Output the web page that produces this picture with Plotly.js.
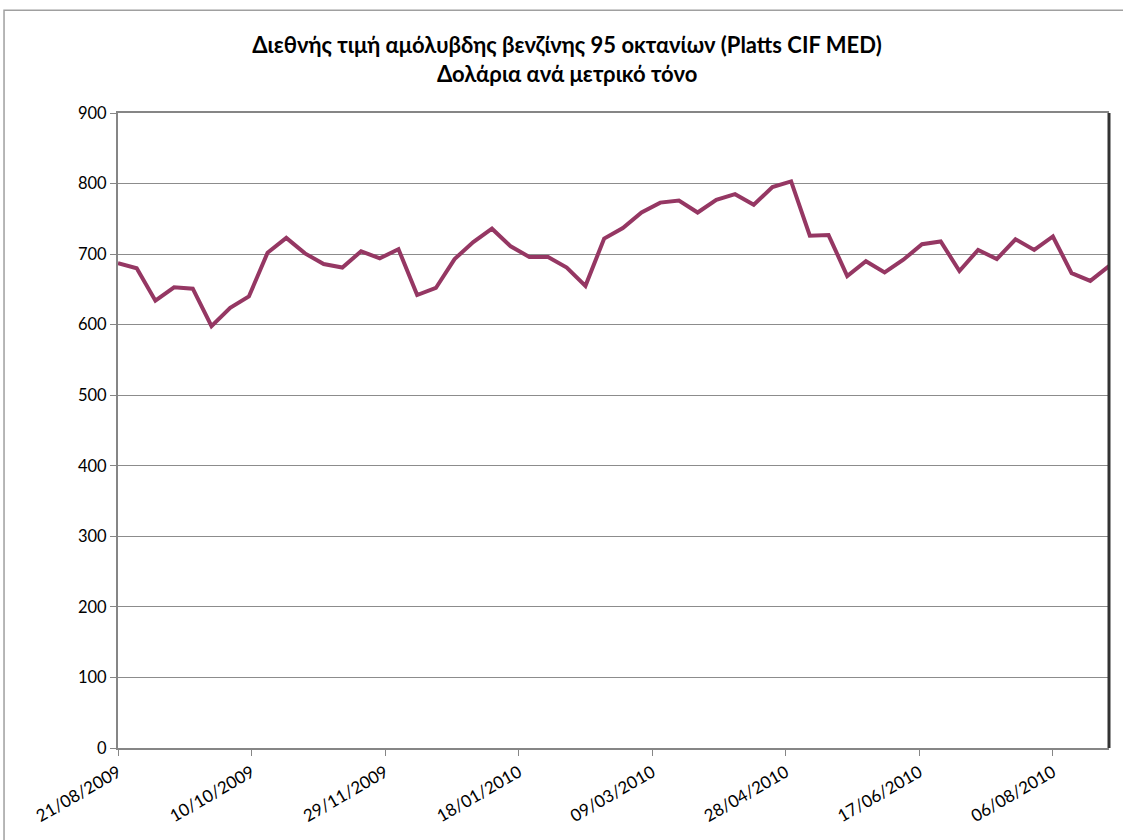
<!DOCTYPE html>
<html>
<head>
<meta charset="utf-8">
<script src="https://cdn.plot.ly/plotly-3.0.1.min.js"></script>
<style>html,body{margin:0;padding:0;background:#fff;}#chart{width:1123px;height:840px;}</style>
</head>
<body>
<div id="chart"></div>
<script>
const dates = [
  "2009-08-21","2009-08-28","2009-09-04","2009-09-11","2009-09-18","2009-09-25","2009-10-02","2009-10-09",
  "2009-10-16","2009-10-23","2009-10-30","2009-11-06","2009-11-13","2009-11-20","2009-11-27","2009-12-04",
  "2009-12-11","2009-12-18","2009-12-25","2010-01-01","2010-01-08","2010-01-15","2010-01-22","2010-01-29",
  "2010-02-05","2010-02-12","2010-02-19","2010-02-26","2010-03-05","2010-03-12","2010-03-19","2010-03-26",
  "2010-04-02","2010-04-09","2010-04-16","2010-04-23","2010-04-30","2010-05-07","2010-05-14","2010-05-21",
  "2010-05-28","2010-06-04","2010-06-11","2010-06-18","2010-06-25","2010-07-02","2010-07-09","2010-07-16",
  "2010-07-23","2010-07-30","2010-08-06","2010-08-13","2010-08-20","2010-08-27"
];
const prices = [
  687, 680, 634, 653, 651, 598, 624, 640,
  702, 723, 701, 686, 681, 704, 694, 707,
  642, 652, 693, 717, 736, 711, 696, 696,
  681, 655, 722, 737, 759, 773, 776, 759,
  777, 785, 770, 795, 803, 726, 727, 669,
  690, 674, 692, 714, 718, 676, 706, 693,
  721, 706, 725, 673, 662, 683
];
const titleLines = ["Διεθνής τιμή αμόλυβδης βενζίνης 95 οκτανίων (Platts CIF MED)", "Δολάρια ανά μετρικό τόνο"];
const yTicks = [0, 100, 200, 300, 400, 500, 600, 700, 800, 900];

const font = "Lato, 'Open Sans', 'Liberation Sans', sans-serif";

const trace = {
  x: dates, y: prices, type: "scatter", mode: "lines",
  line: {color: "#953763", width: 4},
  hoverinfo: "x+y"
};

const layout = {
  width: 1123, height: 840,
  margin: {l: 118, r: 14, t: 113, b: 92},
  paper_bgcolor: "#ffffff", plot_bgcolor: "#ffffff",
  showlegend: false,
  font: {family: font, color: "#000", size: 16},
  title: {
    text: "<b>" + titleLines.join("<br>") + "</b>",
    font: {family: font, size: 22, color: "#000"},
    x: 0.505, xanchor: "center", y: 0.937, yanchor: "middle"
  },
  xaxis: {
    type: "date",
    range: [dates[0], dates[dates.length - 1]],
    tick0: dates[0],
    dtick: 50 * 86400000,
    tickformat: "%d/%m/%Y",
    tickangle: -30,
    ticks: "outside", ticklen: 6, tickcolor: "#868686", tickwidth: 1,
    showgrid: false,
    showline: true, linecolor: "#868686", linewidth: 2,
    mirror: true,
    zeroline: false,
    tickfont: {family: font, size: 17, color: "#000"}
  },
  yaxis: {
    range: [0, 900],
    tickvals: yTicks,
    ticks: "outside", ticklen: 6, tickcolor: "#868686", tickwidth: 1,
    showgrid: true, gridcolor: "#8c8c8c", gridwidth: 1,
    showline: true, linecolor: "#868686", linewidth: 2,
    zeroline: false,
    tickfont: {family: font, size: 16.5, color: "#000"}
  },
  shapes: [
    {type: "line", xref: "paper", yref: "paper", x0: 1, x1: 1, y0: 0, y1: 1,
     line: {color: "#333333", width: 3}},
    {type: "rect", xref: "paper", yref: "paper", x0: -0.115, x1: 1.05, y0: -0.3, y1: 1.162,
     line: {color: "#a0a0a0", width: 1.5}, fillcolor: "rgba(0,0,0,0)", layer: "below"}
  ]
};

Plotly.newPlot("chart", [trace], layout, {displayModeBar: false, staticPlot: true});
</script>
</body>
</html>
